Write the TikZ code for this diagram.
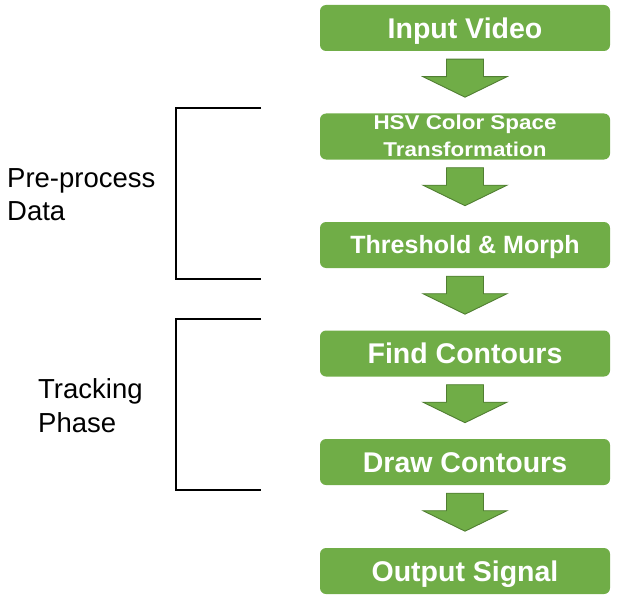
\documentclass[tikz,border=0pt]{standalone}
\usepackage{fontspec}
\setmainfont{Liberation Sans}
\usetikzlibrary{calc}
\definecolor{boxgreen}{HTML}{70AD47}
\definecolor{edgegreen}{HTML}{507E32}
\begin{document}
\begin{tikzpicture}[x=1pt,y=-1pt,
  stepbox/.style={fill=boxgreen, draw=none, rounded corners=6pt, minimum width=290pt, minimum height=46pt, inner sep=0pt,
     text=white, font=\bfseries\fontsize{28.5}{34}\selectfont, text height=20.4pt, text depth=0pt},
  smalltext/.style={text=white, font=\bfseries\fontsize{20}{24}\selectfont, inner sep=0pt, anchor=base},
  blockarrow/.style={fill=boxgreen, draw=edgegreen, line width=0.9pt, line join=miter},
  bracket/.style={draw=black, line width=1.5pt},
  sidelabel/.style={font=\fontsize{27.5}{33}\selectfont, inner sep=0pt, anchor=base west}
]
\useasboundingbox (0,0) rectangle (618,599);
% boxes
\node[stepbox] (b1) at (465,28) {Input Video};
\node[stepbox] (b2) at (465,136.5) {};
\node[smalltext] (b2a) at (465,130) {\scalebox{1.12}[1]{HSV Color Space}};
\node[smalltext] (b2b) at (465,157) {\scalebox{1.12}[1]{Transformation}};
\node[stepbox, font=\bfseries\fontsize{25}{30}\selectfont, text height=17.9pt] (b3) at (465,245) {Threshold \& Morph};
\node[stepbox] (b4) at (465,353.5) {Find Contours};
\node[stepbox] (b5) at (465,462) {Draw Contours};
\node[stepbox] (b6) at (465,571) {Output Signal};
% block arrows
\foreach \a in {1,...,5}{
  \begin{scope}[shift={(b\a.south)}]
    \draw[blockarrow] (-18.5,8) -- (18.5,8) -- (18.5,25.5) -- (42,25.5) -- (0,46) -- (-42,25.5) -- (-18.5,25.5) -- cycle;
  \end{scope}
}
% brackets
\coordinate (p1) at (261,108);
\coordinate (p2) at (261,279);
\coordinate (t1) at (261,319);
\coordinate (t2) at (261,490);
\draw[bracket] (p1) -- (176,108) -- (176,279) -- (p2);
\draw[bracket] (t1) -- (176,319) -- (176,490) -- (t2);
% side labels
\node[sidelabel] (l1) at (7,187) {Pre-process};
\node[sidelabel] (l2) at (7,220) {Data};
\node[sidelabel] (l3) at (38,398) {Tracking};
\node[sidelabel] (l4) at (38,432) {Phase};
\end{tikzpicture}
\end{document}
